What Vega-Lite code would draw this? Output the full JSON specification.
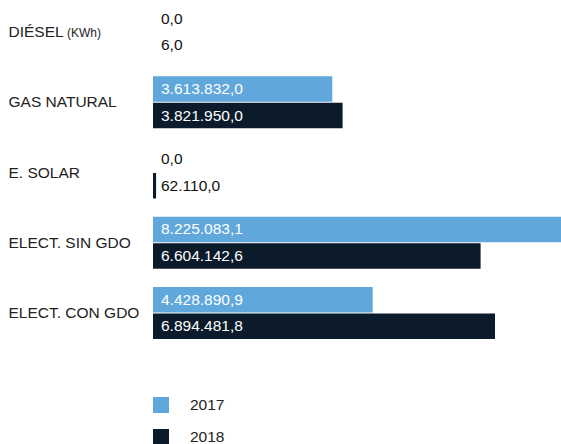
{
  "$schema": "https://vega.github.io/schema/vega-lite/v6.json",
  "width": 408,
  "height": 333,
  "autosize": {"type": "none"},
  "padding": {"left": 153, "top": 6, "right": 0, "bottom": 105},
  "config": {
    "font": "Liberation Sans",
    "view": {"stroke": null},
    "locale": {"number": {"decimal": ",", "thousands": ".", "grouping": [3], "currency": ["", " €"]}}
  },
  "layer": [
    {
      "data": {"name": "main", "values": [
        {"cat": "DIÉSEL", "year": "2017", "value": 0.0},
        {"cat": "DIÉSEL", "year": "2018", "value": 6.0},
        {"cat": "GAS NATURAL", "year": "2017", "value": 3613832.0},
        {"cat": "GAS NATURAL", "year": "2018", "value": 3821950.0},
        {"cat": "E. SOLAR", "year": "2017", "value": 0.0},
        {"cat": "E. SOLAR", "year": "2018", "value": 62110.0},
        {"cat": "ELECT. SIN GDO", "year": "2017", "value": 8225083.1},
        {"cat": "ELECT. SIN GDO", "year": "2018", "value": 6604142.6},
        {"cat": "ELECT. CON GDO", "year": "2017", "value": 4428890.9},
        {"cat": "ELECT. CON GDO", "year": "2018", "value": 6894481.8}
      ]},
      "layer": [
        {
          "mark": {"type": "bar"},
          "encoding": {
            "y": {"field": "cat", "type": "nominal", "sort": ["DIÉSEL", "GAS NATURAL", "E. SOLAR", "ELECT. SIN GDO", "ELECT. CON GDO"],
              "scale": {"paddingInner": 0.26, "paddingOuter": 0},
              "axis": {"title": null, "domain": false, "ticks": false, "grid": false, "labelAlign": "left", "labelPadding": 145, "labelFontSize": 15.5, "labelColor": "#222222", "labelLimit": 200}},
            "yOffset": {"field": "year", "type": "nominal", "scale": {"paddingInner": 0.04}},
            "x": {"field": "value", "type": "quantitative", "scale": {"domain": [0, 8225083.1], "nice": false}, "axis": null},
            "color": {"field": "year", "type": "nominal",
              "scale": {"domain": ["2017", "2018"], "range": ["#60a8dc", "#0c1b2b"]},
              "legend": {"title": null, "orient": "none", "legendX": 0, "legendY": 391, "direction": "vertical",
                "symbolType": "square", "symbolSize": 256, "symbolStrokeWidth": 0, "labelFontSize": 15.5, "labelColor": "#222222", "labelOffset": 21, "rowPadding": 15}}
          }
        },
        {
          "mark": {"type": "text", "align": "left", "baseline": "middle", "dx": 8, "fontSize": 15.5},
          "encoding": {
            "y": {"field": "cat", "type": "nominal", "sort": ["DIÉSEL", "GAS NATURAL", "E. SOLAR", "ELECT. SIN GDO", "ELECT. CON GDO"]},
            "yOffset": {"field": "year", "type": "nominal"},
            "x": {"datum": 0},
            "text": {"field": "value", "type": "quantitative", "format": ",.1f"},
            "color": {"condition": {"test": "datum.value > 1000000", "value": "#ffffff"}, "value": "#111111"}
          }
        }
      ]
    },
    {
      "data": {"values": [{"cat": "DIÉSEL", "note": "(KWh)"}]},
      "mark": {"type": "text", "align": "left", "baseline": "middle", "dx": -86, "dy": 1, "fontSize": 12, "color": "#222222"},
      "encoding": {
        "y": {"field": "cat", "type": "nominal", "sort": ["DIÉSEL", "GAS NATURAL", "E. SOLAR", "ELECT. SIN GDO", "ELECT. CON GDO"]},
        "x": {"datum": 0},
        "text": {"field": "note"}
      }
    }
  ]
}
